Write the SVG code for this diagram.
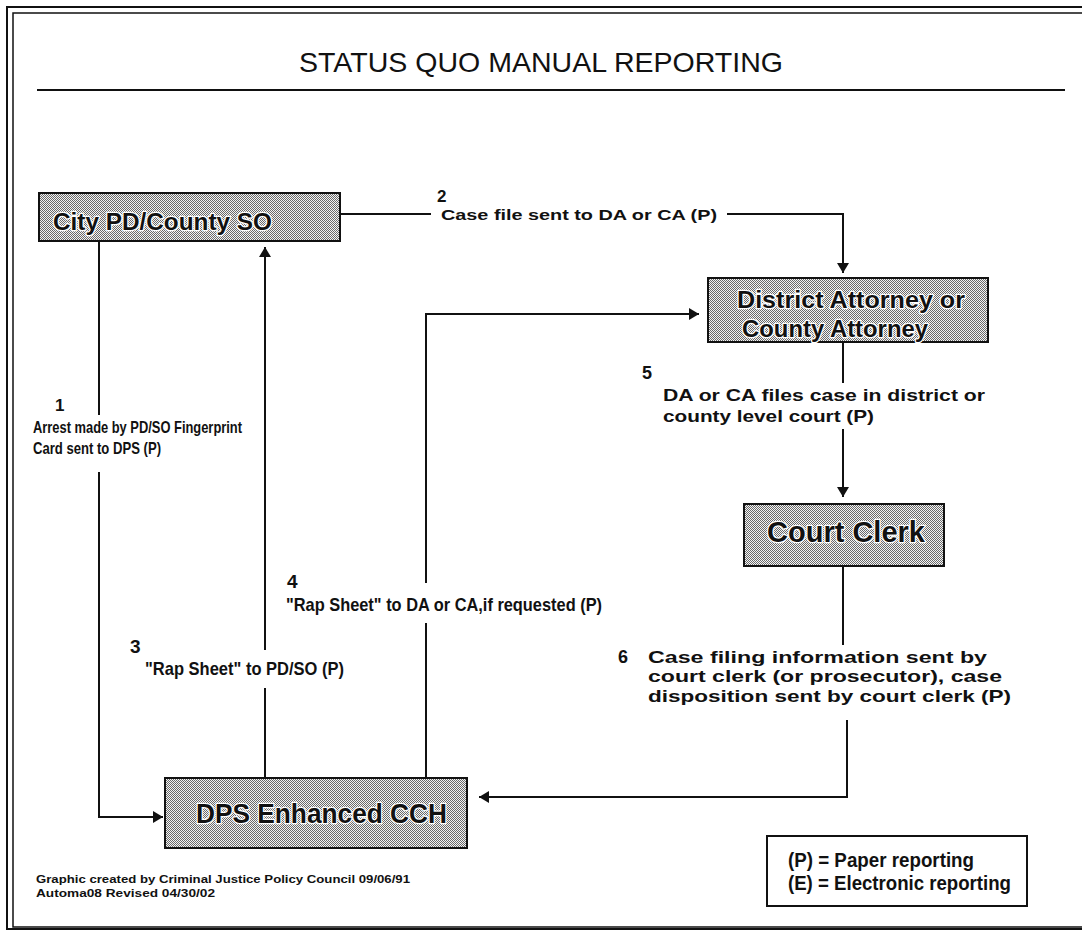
<svg xmlns="http://www.w3.org/2000/svg" width="1082" height="931" viewBox="0 0 1082 931">
<style>
.frame{fill:none;stroke:#111;stroke-width:2}
.ln{fill:none;stroke:#111;stroke-width:2}
.box{fill:url(#dots);stroke:#111;stroke-width:2}
.nt{font-family:"Liberation Sans",Arial,sans-serif;font-weight:bold;fill:#111;stroke:#fff;stroke-width:2.5;paint-order:stroke;stroke-linejoin:round}
.title{font-family:"Liberation Sans",Arial,sans-serif;font-size:28px;fill:#111}
.wide{font-family:"Liberation Sans",Arial,sans-serif;font-weight:bold;fill:#111}
.narrow{font-family:"Liberation Sans",Arial,sans-serif;font-weight:bold;fill:#111}
.num{font-family:"Liberation Sans",Arial,sans-serif;font-weight:bold;fill:#111}
</style>
<defs>
<pattern id="dots" patternUnits="userSpaceOnUse" width="2" height="2">
<rect width="2" height="2" fill="#f4f4f4"/>
<rect x="0" y="0" width="1" height="1" fill="#6a6a6a"/>
<rect x="1" y="1" width="1" height="1" fill="#6a6a6a"/>
</pattern>
<marker id="ah" markerUnits="userSpaceOnUse" viewBox="0 0 10 12" refX="10" refY="6" markerWidth="10" markerHeight="12" orient="auto">
<path d="M0,0 L10,6 L0,12 z" fill="#111"/>
</marker>
</defs>
<rect width="1082" height="931" fill="#fff"/>
<g id="frame">
<path class="frame" d="M1090,7 H7 V929 H1090"/>
<path class="frame" d="M1090,13 H13 V927 H1090" style="stroke-width:1.5"/>
</g>
<g id="title">
<text class="title" x="541" y="72" text-anchor="middle" textLength="484" lengthAdjust="spacingAndGlyphs">STATUS QUO MANUAL REPORTING</text>
<path class="ln" d="M37,90 H1065"/>
</g>
<g id="connectors">
<path class="ln" d="M340,214 H431"/>
<path class="ln" d="M727,214 H843 V273" marker-end="url(#ah)"/>
<path class="ln" d="M99,241 V415"/>
<path class="ln" d="M99,472 V817 H163" marker-end="url(#ah)"/>
<path class="ln" d="M265,778 V688"/>
<path class="ln" d="M265,650 V247" marker-end="url(#ah)"/>
<path class="ln" d="M426,778 V623"/>
<path class="ln" d="M426,583 V314 H699" marker-end="url(#ah)"/>
<path class="ln" d="M843,342 V383"/>
<path class="ln" d="M843,429 V497" marker-end="url(#ah)"/>
<path class="ln" d="M843,566 V645"/>
<path class="ln" d="M847,720 V797 H479" marker-end="url(#ah)"/>
</g>
<g id="node-city">
<rect class="box" x="39" y="193" width="301" height="48"/>
<text class="nt" x="53" y="230" font-size="24" textLength="219" lengthAdjust="spacingAndGlyphs">City PD/County SO</text>
</g>
<g id="node-da">
<rect class="box" x="708" y="278" width="280" height="64"/>
<text class="nt" x="737" y="308" font-size="24" textLength="228" lengthAdjust="spacingAndGlyphs">District Attorney or</text>
<text class="nt" x="742" y="337" font-size="24" textLength="186" lengthAdjust="spacingAndGlyphs">County Attorney</text>
</g>
<g id="node-clerk">
<rect class="box" x="744" y="504" width="200" height="62"/>
<text class="nt" x="767" y="542" font-size="29" textLength="158" lengthAdjust="spacingAndGlyphs">Court Clerk</text>
</g>
<g id="node-dps">
<rect class="box" x="165" y="778" width="302" height="70"/>
<text class="nt" x="196" y="823" font-size="28" textLength="251" lengthAdjust="spacingAndGlyphs">DPS Enhanced CCH</text>
</g>
<g id="labels">
<text class="num" x="437" y="202" font-size="17">2</text>
<text class="wide" x="441" y="220" font-size="15" textLength="276" lengthAdjust="spacingAndGlyphs">Case file sent to DA or CA (P)</text>
<text class="num" x="55" y="411" font-size="17">1</text>
<text class="narrow" x="33" y="433" font-size="17" textLength="209" lengthAdjust="spacingAndGlyphs">Arrest made by PD/SO Fingerprint</text>
<text class="narrow" x="33" y="454" font-size="17" textLength="128" lengthAdjust="spacingAndGlyphs">Card sent to DPS (P)</text>
<text class="num" x="130" y="653" font-size="19">3</text>
<text class="narrow" x="145" y="675" font-size="19" textLength="199" lengthAdjust="spacingAndGlyphs">"Rap Sheet" to PD/SO (P)</text>
<text class="num" x="287" y="588" font-size="19">4</text>
<text class="narrow" x="286" y="611" font-size="19" textLength="316" lengthAdjust="spacingAndGlyphs">"Rap Sheet" to DA or CA,if requested (P)</text>
<text class="num" x="642" y="379" font-size="18">5</text>
<text class="wide" x="663" y="401" font-size="17" textLength="322" lengthAdjust="spacingAndGlyphs">DA or CA files case in district or</text>
<text class="wide" x="663" y="422" font-size="17" textLength="211" lengthAdjust="spacingAndGlyphs">county level court (P)</text>
<text class="num" x="618" y="663" font-size="18">6</text>
<text class="wide" x="648" y="663" font-size="17" textLength="339" lengthAdjust="spacingAndGlyphs">Case filing information sent by</text>
<text class="wide" x="648" y="682" font-size="17" textLength="354" lengthAdjust="spacingAndGlyphs">court clerk (or prosecutor), case</text>
<text class="wide" x="648" y="702" font-size="17" textLength="363" lengthAdjust="spacingAndGlyphs">disposition sent by court clerk (P)</text>
</g>
<g id="footer">
<text class="wide" x="36" y="883" font-size="11" textLength="374" lengthAdjust="spacingAndGlyphs">Graphic created by Criminal Justice Policy Council 09/06/91</text>
<text class="wide" x="36" y="897" font-size="11" textLength="179" lengthAdjust="spacingAndGlyphs">Automa08 Revised 04/30/02</text>
</g>
<g id="legend">
<rect x="767" y="836" width="260" height="70" fill="#fff" stroke="#111" stroke-width="2"/>
<text class="narrow" x="788" y="867" font-size="20" textLength="186" lengthAdjust="spacingAndGlyphs">(P) = Paper reporting</text>
<text class="narrow" x="788" y="890" font-size="20" textLength="223" lengthAdjust="spacingAndGlyphs">(E) = Electronic reporting</text>
</g>
</svg>
